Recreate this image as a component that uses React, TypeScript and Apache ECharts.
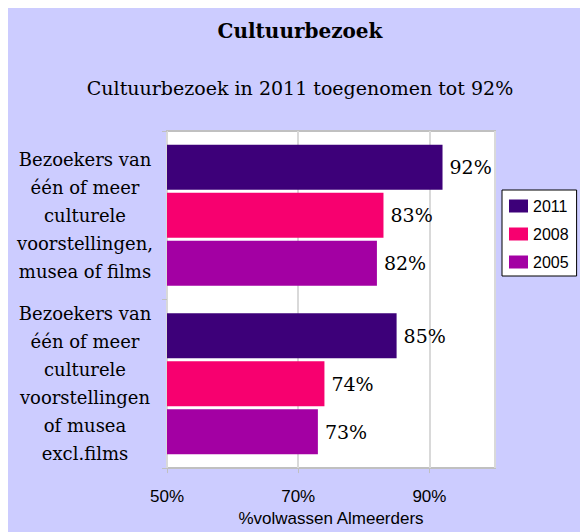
import { useEffect, useRef } from "react";
import * as echarts from "echarts";

const categories = [
  "Bezoekers van\néén of meer\nculturele\nvoorstellingen,\nmusea of films",
  "Bezoekers van\néén of meer\nculturele\nvoorstellingen\nof musea\nexcl.films",
];
const seriesNames = ["2011", "2008", "2005"];
const values2011 = [92, 85];
const values2008 = [83, 74];
const values2005 = [82, 73];
const seriesColors = ["#3d0079", "#f7006f", "#a300a3"];
const axisMin = 50;
const axisMax = 100;
const axisInterval = 20;
const titleText = "Cultuurbezoek";
const subtitleText = "Cultuurbezoek in 2011 toegenomen tot 92%";
const axisName = "%volwassen Almeerders";

const SERIF = "'DejaVu Serif', serif";
const SANS = "'Liberation Sans', Arial, sans-serif";

export default function App() {
  const ref = useRef<HTMLDivElement>(null);
  useEffect(() => {
    if (!ref.current) return;
    const chart = echarts.init(ref.current, null, { renderer: "svg" });
    const valueSets = [values2011, values2008, values2005];
    chart.setOption({
      animation: false,
      backgroundColor: "#ccccff",
      graphic: [
        {
          type: "text",
          x: 292,
          y: 23,
          style: {
            text: titleText,
            fill: "#000",
            fontSize: 20,
            fontWeight: "bold",
            fontFamily: SERIF,
            align: "center",
            verticalAlign: "middle",
          },
        },
        {
          type: "text",
          x: 292,
          y: 80,
          style: {
            text: subtitleText,
            fill: "#000",
            fontSize: 19,
            fontFamily: SERIF,
            align: "center",
            verticalAlign: "middle",
          },
        },
      ],
      legend: {
        data: seriesNames,
        orient: "vertical",
        left: 494,
        top: 182,
        padding: [8, 8, 6, 7],
        itemGap: 12,
        itemWidth: 19,
        itemHeight: 13,
        backgroundColor: "#fff",
        borderColor: "#000",
        borderWidth: 1,
        borderRadius: 0,
        icon: "rect",
        textStyle: { fontFamily: SANS, fontSize: 16, color: "#000" },
      },
      grid: {
        left: 159,
        top: 123,
        width: 328,
        height: 341,
        show: true,
        backgroundColor: "#fff",
        borderColor: "#c0c0c0",
        borderWidth: 2,
      },
      xAxis: {
        type: "value",
        min: axisMin,
        max: axisMax,
        interval: axisInterval,
        name: axisName,
        nameLocation: "middle",
        nameGap: 31,
        nameTextStyle: { fontFamily: SANS, fontSize: 17, color: "#000" },
        axisLine: { show: false },
        axisTick: { show: true, length: 5, lineStyle: { color: "#c0c0c0" } },
        splitLine: { show: true, lineStyle: { color: "#d9d9d9", width: 2 } },
        axisLabel: {
          fontFamily: SANS,
          fontSize: 17,
          color: "#000",
          margin: 20,
          showMaxLabel: false,
          formatter: (v: number) => (v === axisMax ? "" : v + "%"),
        },
      },
      yAxis: {
        type: "category",
        data: categories,
        inverse: true,
        axisLine: { show: false },
        axisTick: { show: true, length: 5, lineStyle: { color: "#c0c0c0" } },
        axisLabel: {
          fontFamily: SERIF,
          fontSize: 18,
          lineHeight: 28,
          color: "#000",
          align: "center",
          margin: 82,
        },
      },
      series: seriesNames.map((name, i) => ({
        name,
        type: "bar",
        data: valueSets[i],
        barWidth: 45,
        barGap: "6.7%",
        itemStyle: { color: seriesColors[i] },
        label: {
          show: true,
          position: "right",
          distance: 7,
          formatter: "{c}%",
          fontFamily: SERIF,
          fontSize: 19,
          color: "#000",
        },
      })),
    });
    return () => chart.dispose();
  }, []);
  return (
    <div
      ref={ref}
      style={{ position: "absolute", left: 8, top: 8, width: 572, height: 524 }}
    />
  );
}
